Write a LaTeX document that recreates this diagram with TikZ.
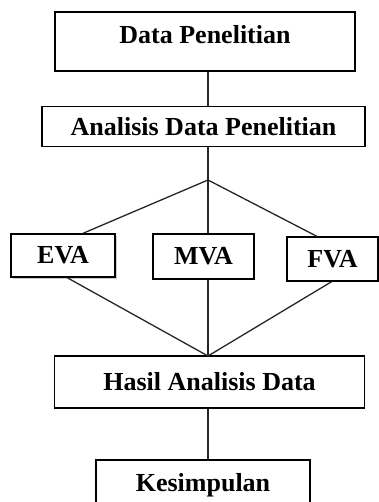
\documentclass[tikz,border=0pt]{standalone}
\usepackage{fontspec}
\setmainfont{Liberation Serif}
\usetikzlibrary{calc, shadows}
\tikzset{
  flowbox/.style  = {font=\bfseries\fontsize{13}{15}\selectfont, align=center,
                     draw=black, fill=white, line width=0.7pt, inner sep=0pt},
  tallbox/.style  = {flowbox, text height=15.8pt, text depth=13.7pt},
  methbox/.style  = {flowbox, minimum height=22pt},
  link/.style     = {draw=black!85, line width=0.65pt},
}
\begin{document}
\begin{tikzpicture}[x=0.5pt, y=-0.5pt]
  \clip (0,0) rectangle (379,502);
  % main column
  \node[tallbox, minimum width=150pt] (data) at (205,41.5) {Data Penelitian};
  \node[flowbox, minimum width=161.5pt, minimum height=20pt] (analisis) at (203.5,126.5)
       {Analisis Data Penelitian};
  % the three methods
  \node[methbox, minimum width=52pt, minimum height=21.5pt,
        drop shadow={shadow xshift=1pt, shadow yshift=-1pt, fill=black!40}]
       (eva) at (63,255.5) {EVA};
  \node[methbox, minimum width=50.5pt, minimum height=22.5pt] (mva) at (203.5,256.5) {MVA};
  \node[methbox, minimum width=45.5pt] (fva) at (332.5,259) {FVA};
  \node[flowbox, minimum width=155pt, minimum height=26pt] (hasil) at (209.5,382)
       {Hasil Analisis Data};
  \node[tallbox, minimum width=107pt] (kesimpulan) at (203,489.5) {Kesimpulan};
  % branch points
  \coordinate (jtop) at (208,180);
  \coordinate (jbot) at (208,356);
  \draw[link] (data.south -| jtop) -- (analisis.north -| jtop);
  \draw[link] (analisis.south -| jtop) -- (mva.north -| jtop);
  \draw[link] (jtop) -- ($(eva.north west)!0.69!(eva.north east)$);
  \draw[link] (jtop) -- ($(fva.north west)!0.33!(fva.north east)$);
  \draw[link] (mva.south -| jbot) -- (hasil.north -| jbot);
  \draw[link] ($(eva.south west)!0.54!(eva.south east)$) -- (jbot);
  \draw[link] ($(fva.south west)!0.49!(fva.south east)$) -- (jbot);
  \draw[link] (hasil.south -| jbot) -- (kesimpulan.north -| jbot);
\end{tikzpicture}
\end{document}
